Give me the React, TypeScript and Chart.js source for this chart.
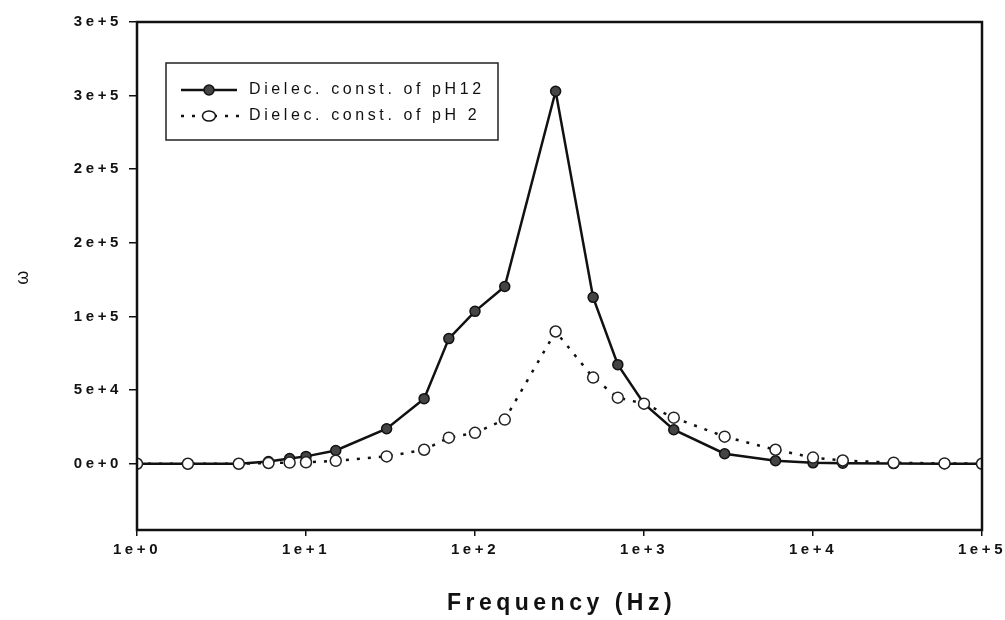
import React, { useEffect, useRef } from "react";
import { Chart, registerables } from "chart.js";

Chart.register(...registerables);

const frequencies = [1, 2, 4, 6, 8, 10, 15, 30, 50, 70, 100, 150, 300, 500, 700, 1000, 1500, 3000, 6000, 10000, 15000, 30000, 60000, 100000];
const ph12Values = [0, 0, 0, 1500, 3500, 5000, 9000, 23800, 44200, 85000, 103500, 120400, 253000, 113000, 67300, 40800, 23100, 6800, 2000, 600, 300, 100, 0, 0];
const ph2Values = [0, 0, 0, 500, 800, 1000, 2000, 5000, 9500, 17700, 21000, 30000, 89800, 58500, 44900, 40800, 31300, 18400, 9500, 4200, 2200, 700, 200, 0];
const xTicks = [1, 10, 100, 1000, 10000, 100000];
const yTicks = [0, 50000, 100000, 150000, 200000, 250000, 300000];
const seriesLabels = ["Dielec. const. of pH12", "Dielec. const. of pH 2"];
const xTitle = "Frequency (Hz)";
const yTitle = "ω";

const FONT = "'Liberation Sans', Arial, sans-serif";

const spacingPlugin = {
  id: "spacing",
  beforeLayout(chart: any) {
    (chart.ctx as any).letterSpacing = "3.6px";
  },
  beforeDraw(chart: any) {
    (chart.ctx as any).letterSpacing = "3.6px";
  },
};

const framePlugin = {
  id: "frame",
  afterDatasetsDraw(chart: any) {
    const { ctx, chartArea } = chart;
    ctx.save();
    ctx.strokeStyle = "#111";
    ctx.lineWidth = 2.5;
    ctx.strokeRect(chartArea.left, chartArea.top, chartArea.right - chartArea.left, chartArea.bottom - chartArea.top);
    ctx.restore();
  },
};

const titlePlugin = {
  id: "xTitleText",
  afterDraw(chart: any) {
    const { ctx, chartArea } = chart;
    ctx.save();
    ctx.fillStyle = "#111";
    ctx.font = `bold 23px ${FONT}`;
    (ctx as any).letterSpacing = "4.5px";
    ctx.textAlign = "center";
    ctx.textBaseline = "middle";
    ctx.fillText(xTitle, (chartArea.left + chartArea.right) / 2 + 2, 604);
    ctx.restore();
  },
};

const legendPlugin = {
  id: "boxLegend",
  afterDraw(chart: any) {
    const ctx = chart.ctx;
    ctx.save();
    ctx.strokeStyle = "#222";
    ctx.lineWidth = 1.5;
    ctx.fillStyle = "#fff";
    ctx.fillRect(166, 63, 332, 77);
    ctx.strokeRect(166, 63, 332, 77);
    // entry 1
    ctx.lineWidth = 2.5;
    ctx.strokeStyle = "#111";
    ctx.setLineDash([]);
    ctx.beginPath();
    ctx.moveTo(181, 90);
    ctx.lineTo(237, 90);
    ctx.stroke();
    ctx.beginPath();
    ctx.arc(209, 90, 5, 0, Math.PI * 2);
    ctx.fillStyle = "#444";
    ctx.fill();
    ctx.lineWidth = 1.5;
    ctx.stroke();
    // entry 2
    ctx.lineWidth = 2.5;
    ctx.setLineDash([3, 8]);
    ctx.beginPath();
    ctx.moveTo(181, 116);
    ctx.lineTo(240, 116);
    ctx.stroke();
    ctx.setLineDash([]);
    ctx.beginPath();
    ctx.ellipse(209, 116, 6.5, 5, 0, 0, Math.PI * 2);
    ctx.fillStyle = "#fff";
    ctx.fill();
    ctx.lineWidth = 1.5;
    ctx.stroke();
    ctx.fillStyle = "#111";
    ctx.font = `16px ${FONT}`;
    (ctx as any).letterSpacing = "3.6px";
    ctx.textBaseline = "middle";
    ctx.textAlign = "left";
    ctx.fillText(seriesLabels[0], 249, 90);
    ctx.fillText(seriesLabels[1], 249, 116);
    ctx.restore();
  },
};

export default function App() {
  const canvasRef = useRef<HTMLCanvasElement | null>(null);

  useEffect(() => {
    document.body.style.margin = "0";
    const canvas = canvasRef.current;
    if (!canvas) return;
    const chart = new Chart(canvas, {
      type: "line",
      data: {
        datasets: [
          {
            label: seriesLabels[0],
            data: frequencies.map((f, i) => ({ x: f, y: ph12Values[i] })),
            borderColor: "#111",
            borderWidth: 2.5,
            pointRadius: 5,
            pointBackgroundColor: "#444",
            pointBorderColor: "#111",
            pointBorderWidth: 1.5,
            tension: 0,
            order: 2,
          },
          {
            label: seriesLabels[1],
            data: frequencies.map((f, i) => ({ x: f, y: ph2Values[i] })),
            borderColor: "#111",
            borderWidth: 2.5,
            borderDash: [3, 8],
            pointRadius: 5.5,
            pointBackgroundColor: "#fff",
            pointBorderColor: "#222",
            pointBorderWidth: 1.5,
            tension: 0,
            order: 1,
          },
        ],
      },
      options: {
        animation: false,
        responsive: false,
        maintainAspectRatio: false,
        layout: { padding: { left: 0, right: 23, top: 22, bottom: 0 } },
        plugins: {
          legend: { display: false },
          tooltip: { enabled: false },
        },
        scales: {
          x: {
            type: "logarithmic",
            min: 1,
            max: 100000,
            afterBuildTicks: (scale: any) => {
              scale.ticks = xTicks.map((v) => ({ value: v }));
            },
            afterFit: (scale: any) => {
              scale.height = 90;
              scale.paddingRight = 0;
              scale.paddingLeft = 0;
            },
            grid: {
              display: true,
              drawOnChartArea: false,
              drawTicks: true,
              tickLength: 6,
              color: "#111",
              lineWidth: 1.5,
            },
            border: { display: false },
            ticks: {
              autoSkip: false,
              maxRotation: 0,
              padding: 5,
              color: "#111",
              font: { family: FONT, size: 15, weight: "bold" },
              callback: (v: any) => Number(v).toExponential(0),
            },
            title: { display: false },
          },
          y: {
            type: "linear",
            min: -45000,
            max: 300000,
            afterBuildTicks: (scale: any) => {
              scale.ticks = yTicks.map((v) => ({ value: v }));
            },
            afterFit: (scale: any) => {
              scale.width = 137;
              scale.paddingTop = 0;
              scale.paddingBottom = 0;
            },
            grid: {
              display: true,
              drawOnChartArea: false,
              drawTicks: true,
              tickLength: 8,
              color: "#111",
              lineWidth: 1.5,
            },
            border: { display: false },
            ticks: {
              padding: 7,
              color: "#111",
              font: { family: FONT, size: 15, weight: "bold" },
              callback: (v: any) => Number(v).toExponential(0),
            },
            title: {
              display: true,
              text: yTitle,
              color: "#111",
              font: { family: FONT, size: 18 },
              padding: { top: 12, bottom: 0 },
            },
          },
        },
      },
      plugins: [spacingPlugin, framePlugin, legendPlugin, titlePlugin],
    } as any);
    return () => chart.destroy();
  }, []);

  return (
    <div style={{ position: "absolute", left: 0, top: 0, width: 1005, height: 620, background: "#fff" }}>
      <canvas ref={canvasRef} width={1005} height={620} style={{ width: 1005, height: 620, display: "block" }} />
    </div>
  );
}
